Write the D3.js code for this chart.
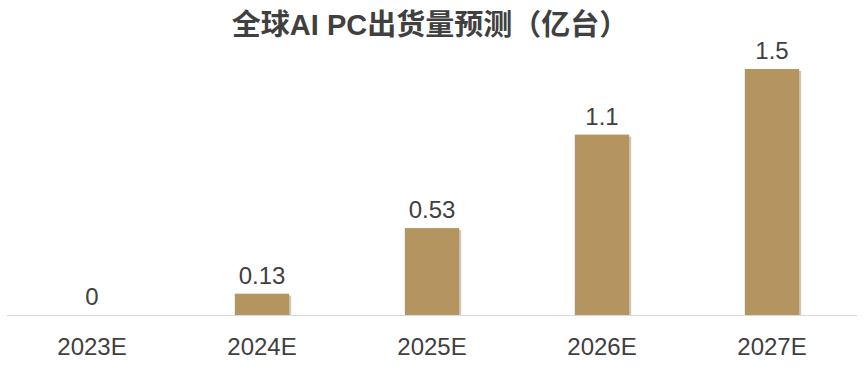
<!DOCTYPE html>
<html>
<head>
<meta charset="utf-8">
<title>AI PC</title>
<script src="https://cdn.jsdelivr.net/npm/d3@7"></script>
<style>
body{margin:0;background:#fff;}
svg{display:block;font-family:"Liberation Sans","Noto Sans CJK SC",sans-serif;}
</style>
</head>
<body>
<svg id="chart" width="864" height="371"></svg>
<script>
// data
var years = ["2023E","2024E","2025E","2026E","2027E"];
var values = [0, 0.13, 0.53, 1.1, 1.5];
var labels = ["0","0.13","0.53","1.1","1.5"];

var svg = d3.select("#chart");
var base = 315;

var x = d3.scaleBand().domain(years).range([7, 857]).paddingInner(0.68).paddingOuter(0.34);
var y = d3.scaleLinear().domain([0, 1.5]).range([base, 69]);

svg.append("text").attr("x", 430).attr("y", 35).attr("text-anchor","middle")
  .attr("font-size", 29).attr("font-weight","bold").attr("fill","#404040")
  .attr("font-family","'Liberation Sans','Noto Sans CJK SC',sans-serif")
  .text("全球AI PC出货量预测（亿台）");

// shadow then bar
var g = svg.append("g");
g.selectAll("rect.sh").data(values).enter().append("rect").attr("class","sh")
  .attr("x", function(d,i){return x(years[i]) + 2;})
  .attr("y", function(d){return y(d) + 2;})
  .attr("width", x.bandwidth())
  .attr("height", function(d){return Math.max(0, base - y(d) - 2);})
  .attr("fill","#c8c8c8");
g.selectAll("rect.bar").data(values).enter().append("rect").attr("class","bar")
  .attr("x", function(d,i){return x(years[i]);})
  .attr("y", function(d){return y(d);})
  .attr("width", x.bandwidth())
  .attr("height", function(d){return base - y(d);})
  .attr("fill","#b5955f");

svg.append("line").attr("x1",7).attr("x2",857).attr("y1",base+0.5).attr("y2",base+0.5)
  .attr("stroke","#d9d9d9").attr("stroke-width",1);

svg.selectAll("text.val").data(values).enter().append("text").attr("class","val")
  .attr("x", function(d,i){return x(years[i]) + x.bandwidth()/2;})
  .attr("y", function(d){return y(d) - 10;})
  .attr("text-anchor","middle").attr("font-size",24).attr("fill","#404040")
  .text(function(d,i){return labels[i];});

var xAxis = svg.append("g").attr("transform","translate(0,"+base+")")
  .call(d3.axisBottom(x).tickSize(0).tickPadding(0));
xAxis.select(".domain").remove();
xAxis.selectAll("text").attr("font-size",24).attr("fill","#404040")
  .attr("font-family","'Liberation Sans',sans-serif")
  .attr("dy", null).attr("y", 40);
</script>
</body>
</html>
